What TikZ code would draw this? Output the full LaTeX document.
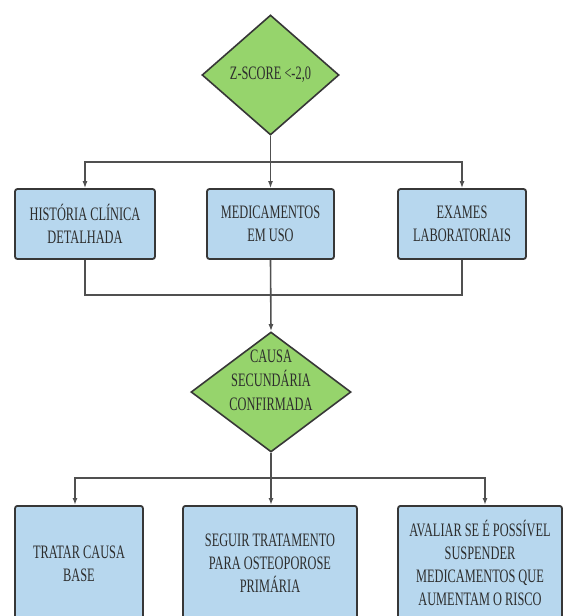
\documentclass[tikz,border=0pt]{standalone}
\usepackage{fontspec}
\setmainfont[FakeStretch=0.65]{Liberation Serif}
\usetikzlibrary{shapes.geometric,arrows.meta}
\definecolor{boxblue}{RGB}{183,215,238}
\definecolor{leafgreen}{RGB}{150,212,108}
\definecolor{edgegray}{RGB}{55,55,55}
\definecolor{linegray}{RGB}{80,80,80}
\definecolor{textgray}{RGB}{45,45,45}
\tikzset{
  decision/.style={diamond, draw=edgegray, line width=1.6pt, fill=leafgreen, inner sep=0pt,
    text=textgray, align=center, font=\fontsize{19}{24}\selectfont},
  stepbox/.style={rectangle, rounded corners=2.5pt, draw=edgegray, line width=1.8pt, fill=boxblue,
    text=textgray, align=center, font=\fontsize{19}{23}\selectfont},
  link/.style={draw=linegray, line width=1.6pt},
}
\begin{document}
\begin{tikzpicture}[x=1pt, y=-1pt, >={Latex[length=7pt,width=5pt]}]
\clip (0,0) rectangle (563,616);
\fill[white] (0,0) rectangle (563,616);
% Z-score
\node[decision, minimum width=137pt, minimum height=120pt] (zscore) at (270.5,75) {Z-SCORE <-2,0};
\node[stepbox, minimum width=140pt, minimum height=70pt] (hist) at (85,224) {HISTÓRIA CLÍNICA\\DETALHADA};
\node[stepbox, minimum width=127pt, minimum height=70pt] (med) at (270.5,224) {MEDICAMENTOS\\EM USO};
\node[stepbox, minimum width=128pt, minimum height=70pt] (exam) at (462,224) {EXAMES\\LABORATORIAIS};
\coordinate (split1) at (270.5,162);
\draw[link] (zscore.south) -- (split1);
\draw[link,->] (split1) -| (hist.north);
\draw[link,->] (split1) -- (med.north);
\draw[link,->] (split1) -| (exam.north);
% Causa secundaria
\node[decision, aspect=1.33, minimum width=160pt, minimum height=120pt] (causa) at (271,392)
  {\raisebox{5.5pt}[0pt][0pt]{\begin{tabular}{@{}c@{}}CAUSA\\SECUNDÁRIA\\CONFIRMADA\end{tabular}}};
\coordinate (join1) at (270.5,295);
\draw[link] (hist.south) |- (join1) -| (exam.south);
\draw[link,->] (med.south) -- (causa.north);
% Condutas
\node[stepbox, anchor=north, minimum width=128pt, minimum height=115pt] (tratar) at (79,505) {TRATAR CAUSA\\BASE};
\node[stepbox, anchor=north, minimum width=174pt, minimum height=115pt] (seguir) at (270,505) {SEGUIR TRATAMENTO\\PARA OSTEOPOROSE\\PRIMÁRIA};
\node[stepbox, anchor=north, minimum width=164pt, minimum height=115pt] (avaliar) at (480,505)
  {AVALIAR SE É POSSÍVEL\\SUSPENDER\\MEDICAMENTOS QUE\\AUMENTAM O RISCO};
\coordinate (split2) at (271,478);
\draw[link] (causa.south) -- (split2);
\draw[link,->] (split2) -| ([xshift=-4pt]tratar.north);
\draw[link,->] (split2) -- (split2 |- seguir.north);
\draw[link,->] (split2) -| ([xshift=5pt]avaliar.north);
\end{tikzpicture}
\end{document}
